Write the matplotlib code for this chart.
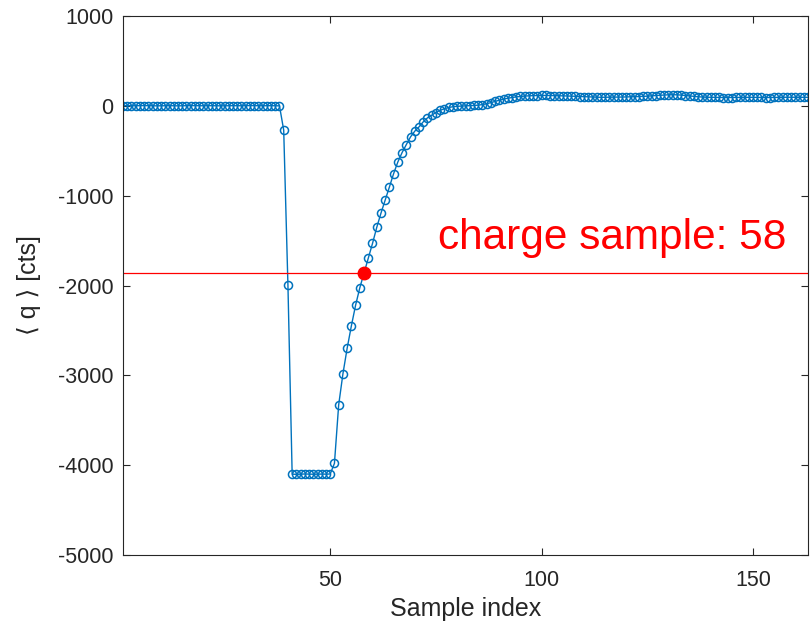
import matplotlib
matplotlib.use("Agg")
import matplotlib.pyplot as plt

plt.rcParams['font.family'] = ['Liberation Sans', 'DejaVu Sans']
plt.rcParams['axes.unicode_minus'] = False

# mean charge per sample index
baseline = [3, 2, 2, 1, 2, 3, 2, 1, 0, 1, 2, 2, 1, 0, 1, 2, 3, 2, 1, 1,
            2, 2, 1, 0, 1, 2, 2, 1, 1, 2, 3, 2, 1, 1, 2, 2, 1, 0]
pulse = [-270, -1995,
         -4100, -4102, -4100, -4098, -4100, -4101, -4100, -4099, -4100, -4098]
rise = [-3980, -3330, -2985, -2700, -2450, -2220, -2025, -1860, -1696, -1532,
        -1354, -1195, -1050, -903, -754, -624, -520, -431, -345, -282,
        -234, -178, -134, -104, -74, -50, -32, -18, -10, -5,
        -2, 0, 2, 4, 8, 14, 24, 36, 50, 63,
        75, 85, 93, 100, 105, 109, 112, 114]
tail = [115, 116, 116, 115, 114, 113, 112, 110, 108, 106, 104, 102, 100, 98,
        95, 95, 96, 96, 97, 97, 98, 99, 100, 102, 104, 106, 108,
        112, 115, 118, 121, 123, 124, 123, 120, 115, 110,
        105, 101, 98, 96, 95, 94, 94, 93, 93, 93, 94, 94, 95, 95, 95, 94,
        94, 93, 93, 94, 95, 96, 96, 96, 95, 95, 95, 95]
q_mean = baseline + pulse + rise + tail
sample_idx = list(range(1, len(q_mean) + 1))

charge_sample = 58
charge_level = -1860

fig = plt.figure(figsize=(8.11, 6.26), dpi=100)
ax = fig.add_axes([0.1517, 0.1134, 0.8446, 0.861])

blue = '#0072BD'
ax.plot(sample_idx, q_mean, '-o', color=blue, lw=1.0, ms=5.8,
        mfc='none', mec=blue, mew=1.1)
ax.axhline(charge_level, color='red', lw=0.9)
ax.plot(charge_sample, charge_level, 'o', color='red', ms=9)
ax.text(75.5, -1590, f'charge sample: {charge_sample}', color='red',
        fontsize=30.5, ha='left', va='baseline')

ax.set_xlim(1, len(q_mean))
ax.set_ylim(-5000, 1000)
ax.set_xticks([50, 100, 150])
ax.set_yticks(range(-5000, 1001, 1000))
ax.set_xlabel('Sample index', fontsize=18, color='#262626', labelpad=4)
ax.set_ylabel('⟨ q ⟩ [cts]', fontsize=18, color='#262626', labelpad=12)

ax.tick_params(direction='in', top=True, right=True, length=5,
               labelsize=15.5, colors='#262626', width=0.8)
ax.tick_params(axis='x', pad=11)
ax.tick_params(axis='y', pad=7)
for s in ax.spines.values():
    s.set_color('#262626')
    s.set_linewidth(0.8)

fig.savefig('out.png', dpi=100)
